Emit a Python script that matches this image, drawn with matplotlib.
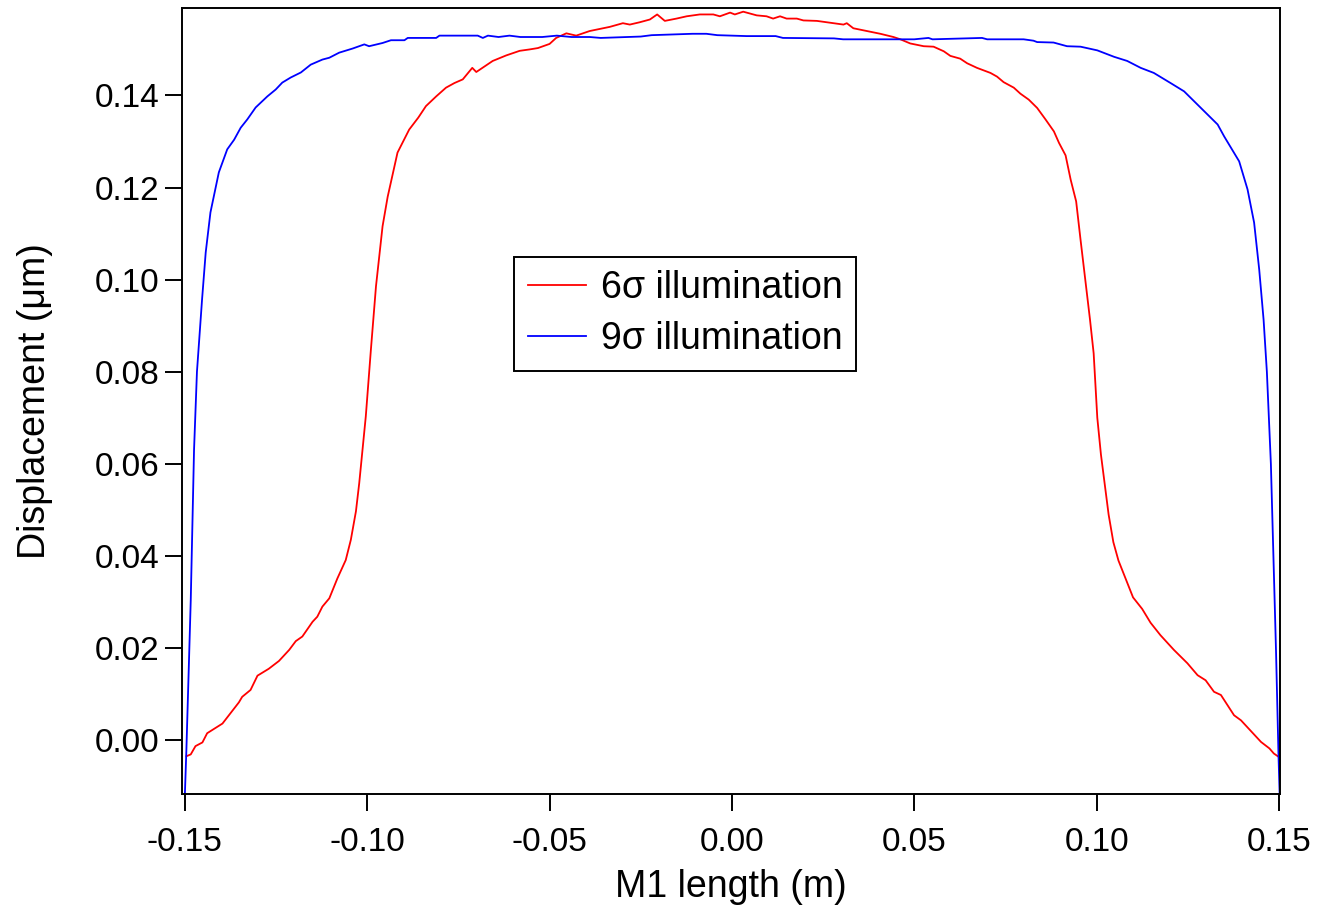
import matplotlib
matplotlib.use("Agg")
import matplotlib.pyplot as plt

plt.rcParams['font.family'] = ['Liberation Sans', 'DejaVu Sans']

# 6 sigma illumination (red)
red_x = [-0.1496, -0.1484, -0.1471, -0.1452, -0.1439, -0.1397, -0.1352, -0.1343, -0.1320, -0.1301,
         -0.1270, -0.1242, -0.1214, -0.1196, -0.1178, -0.1150, -0.1137, -0.1123, -0.1104, -0.1082,
         -0.1059, -0.1045, -0.1031, -0.1022, -0.1013, -0.1004, -0.0990, -0.0976, -0.0958, -0.0944,
         -0.0917, -0.0885, -0.0860, -0.0839, -0.0811, -0.0784, -0.0761, -0.0738, -0.0712, -0.0701,
         -0.0656, -0.0619, -0.0582, -0.0555, -0.0532, -0.0500, -0.0482, -0.0454, -0.0427, -0.0390,
         -0.0335, -0.0299, -0.0280, -0.0253, -0.0225, -0.0205, -0.0184, -0.0152, -0.0124, -0.0088,
         -0.0051, -0.0033, -0.0005, 0.0008, 0.0031, 0.0068, 0.0095, 0.0113, 0.0132, 0.0150,
         0.0178, 0.0196, 0.0233, 0.0269, 0.0306, 0.0315, 0.0333, 0.0370, 0.0407, 0.0443,
         0.0462, 0.0489, 0.0526, 0.0553, 0.0581, 0.0599, 0.0626, 0.0645, 0.0672, 0.0709,
         0.0727, 0.0745, 0.0773, 0.0791, 0.0814, 0.0837, 0.0860, 0.0883, 0.0897, 0.0915,
         0.0929, 0.0944, 0.0956, 0.0970, 0.0982, 0.0992, 0.1002, 0.1012, 0.1025, 0.1033,
         0.1046, 0.1060, 0.1080, 0.1100, 0.1125, 0.1148, 0.1175, 0.1212, 0.1249, 0.1277,
         0.1299, 0.1322, 0.1341, 0.1377, 0.1396, 0.1451, 0.1474, 0.1486, 0.1497]
red_y = [-0.0035, -0.0031, -0.0013, -0.0005, 0.0015, 0.0036, 0.0082, 0.0094, 0.0109, 0.0140,
         0.0155, 0.0172, 0.0196, 0.0215, 0.0225, 0.0257, 0.0268, 0.0290, 0.0308, 0.0351,
         0.0391, 0.0435, 0.0497, 0.0558, 0.0630, 0.0703, 0.0848, 0.0986, 0.1116, 0.1180,
         0.1276, 0.1326, 0.1352, 0.1377, 0.1398, 0.1417, 0.1427, 0.1435, 0.1460, 0.1451,
         0.1475, 0.1487, 0.1497, 0.1500, 0.1503, 0.1512, 0.1525, 0.1535, 0.1530, 0.1540,
         0.1549, 0.1557, 0.1554, 0.1559, 0.1565, 0.1576, 0.1562, 0.1567, 0.1572, 0.1576,
         0.1576, 0.1572, 0.1580, 0.1576, 0.1582, 0.1574, 0.1572, 0.1567, 0.1572, 0.1567,
         0.1567, 0.1563, 0.1562, 0.1558, 0.1554, 0.1557, 0.1546, 0.1540, 0.1534, 0.1527,
         0.1522, 0.1513, 0.1507, 0.1506, 0.1496, 0.1486, 0.1480, 0.1470, 0.1460, 0.1449,
         0.1441, 0.1429, 0.1417, 0.1404, 0.1391, 0.1373, 0.1348, 0.1322, 0.1297, 0.1270,
         0.1217, 0.1170, 0.1087, 0.0993, 0.0913, 0.0840, 0.0700, 0.0620, 0.0540, 0.0490,
         0.0430, 0.0390, 0.0350, 0.0310, 0.0285, 0.0255, 0.0228, 0.0196, 0.0167, 0.0141,
         0.0130, 0.0105, 0.0098, 0.0054, 0.0043, -0.0004, -0.0018, -0.0029, -0.0035]

# 9 sigma illumination (blue)
blue_x = [-0.1500, -0.1496, -0.1484, -0.1475, -0.1467, -0.1453, -0.1443, -0.1430, -0.1407, -0.1384,
          -0.1365, -0.1347, -0.1329, -0.1306, -0.1274, -0.1251, -0.1233, -0.1210, -0.1182, -0.1155,
          -0.1123, -0.1104, -0.1077, -0.1040, -0.1008, -0.0995, -0.0958, -0.0935, -0.0898, -0.0889,
          -0.0811, -0.0802, -0.0697, -0.0683, -0.0669, -0.0640, -0.0610, -0.0580, -0.0520, -0.0480,
          -0.0440, -0.0390, -0.0360, -0.0250, -0.0220, -0.0108, -0.0070, -0.0040, 0.0040, 0.0120,
          0.0140, 0.0280, 0.0305, 0.0500, 0.0539, 0.0550, 0.0686, 0.0700, 0.0800, 0.0827,
          0.0837, 0.0882, 0.0919, 0.0956, 0.1002, 0.1048, 0.1084, 0.1121, 0.1157, 0.1203,
          0.1240, 0.1286, 0.1332, 0.1350, 0.1391, 0.1414, 0.1432, 0.1446, 0.1458, 0.1467,
          0.1478, 0.1492, 0.1499, 0.1502]
blue_y = [-0.0115, -0.0022, 0.0304, 0.0630, 0.0800, 0.0957, 0.1059, 0.1146, 0.1233, 0.1283,
          0.1304, 0.1330, 0.1348, 0.1374, 0.1398, 0.1413, 0.1428, 0.1439, 0.1450, 0.1467,
          0.1478, 0.1482, 0.1493, 0.1502, 0.1511, 0.1507, 0.1514, 0.1520, 0.1520, 0.1525,
          0.1525, 0.1530, 0.1530, 0.1525, 0.1530, 0.1527, 0.1530, 0.1527, 0.1527, 0.1530,
          0.1527, 0.1527, 0.1525, 0.1528, 0.1531, 0.1534, 0.1534, 0.1531, 0.1529, 0.1529,
          0.1525, 0.1524, 0.1522, 0.1522, 0.1525, 0.1522, 0.1525, 0.1522, 0.1522, 0.1519,
          0.1516, 0.1515, 0.1507, 0.1506, 0.1498, 0.1484, 0.1475, 0.1460, 0.1449, 0.1427,
          0.1409, 0.1373, 0.1337, 0.1311, 0.1257, 0.1196, 0.1124, 0.1022, 0.0913, 0.0800,
          0.0600, 0.0196, -0.0037, -0.0117]

x_ticks = [-0.15, -0.10, -0.05, 0.00, 0.05, 0.10, 0.15]
x_ticklabels = ["-0.15", "-0.10", "-0.05", "0.00", "0.05", "0.10", "0.15"]
y_ticks = [0.00, 0.02, 0.04, 0.06, 0.08, 0.10, 0.12, 0.14]
y_ticklabels = ["0.00", "0.02", "0.04", "0.06", "0.08", "0.10", "0.12", "0.14"]

W, H = 1318, 908
fig = plt.figure(figsize=(W / 100, H / 100), dpi=100)
ax = fig.add_axes([182 / W, 1 - 794 / H, (1280 - 182) / W, (794 - 8) / H])

ax.plot(red_x, red_y, color='#ff0000', lw=1.3, label='6σ illumination')
ax.plot(blue_x, blue_y, color='#0000ff', lw=1.3, label='9σ illumination')

ax.set_xlim(-0.1508, 0.1503)
ax.set_ylim(-0.0117, 0.1590)
ax.set_xticks(x_ticks)
ax.set_xticklabels(x_ticklabels)
ax.set_yticks(y_ticks)
ax.set_yticklabels(y_ticklabels)

for s in ax.spines.values():
    s.set_linewidth(1.4)
ax.tick_params(axis='both', direction='out', length=12.5, width=1.4, labelsize=24)
ax.tick_params(axis='x', pad=11.5)
ax.tick_params(axis='y', pad=4)

ax.set_xlabel('M1 length (m)', fontsize=27, labelpad=8)
ax.set_ylabel('Displacement (μm)', fontsize=27, labelpad=30)

leg = ax.legend(loc='upper left', bbox_to_anchor=(514 / W, 1 - 257 / H),
                bbox_transform=fig.transFigure, borderaxespad=0,
                fontsize=27, frameon=True, fancybox=False, framealpha=1,
                handlelength=1.55, handletextpad=0.4, borderpad=0.36,
                labelspacing=0.39)
leg.get_frame().set_edgecolor('black')
leg.get_frame().set_linewidth(1.4)

fig.savefig('out.png', dpi=100)
